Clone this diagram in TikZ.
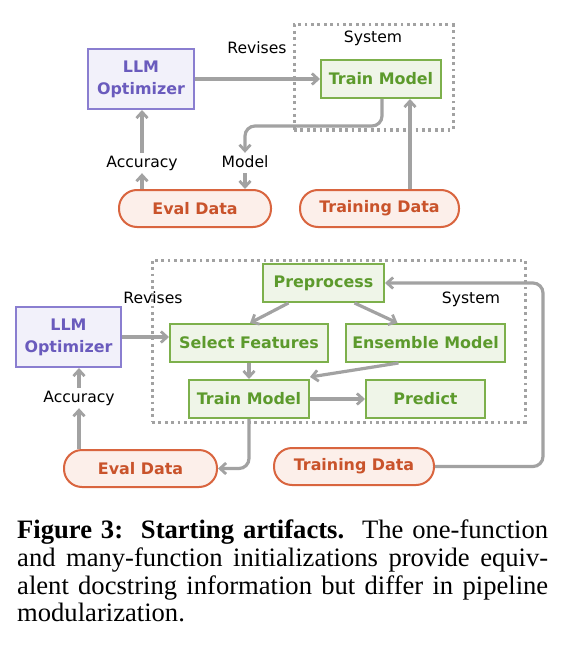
\documentclass[tikz,border=0pt]{standalone}
\usepackage{fontspec}
\setmainfont{Liberation Serif}
\newfontfamily\dvs{DejaVu Sans}
\usetikzlibrary{arrows.meta}
\definecolor{pText}{HTML}{6A5BBD}
\definecolor{pLine}{HTML}{8A7ED0}
\definecolor{pFill}{HTML}{F2F1FA}
\definecolor{gText}{HTML}{5C9A2C}
\definecolor{gLine}{HTML}{7DB04C}
\definecolor{gFill}{HTML}{EFF5E8}
\definecolor{oText}{HTML}{C9532B}
\definecolor{oLine}{HTML}{D9653F}
\definecolor{oFill}{HTML}{FCEFEA}
\definecolor{arrGray}{HTML}{A2A2A2}
\tikzset{
  base/.style={inner sep=0pt, font=\dvs\bfseries\fontsize{15.9pt}{22pt}\selectfont, align=center, line width=2pt},
  optbox/.style={base, draw=pLine, fill=pFill, text=pText},
  fnbox/.style={base, draw=gLine, fill=gFill, text=gText, minimum height=38pt},
  databox/.style={base, draw=oLine, fill=oFill, text=oText, rounded corners=18pt, minimum height=37pt},
  sysbox/.style={draw=arrGray, line width=3pt, dash pattern=on 2.8pt off 3.6pt},
  lbl/.style={inner sep=2.5pt, font=\dvs\fontsize{15.6pt}{18pt}\selectfont, text height=11.5pt, text depth=3.5pt},
  arr/.style={draw=arrGray, line width=3.2pt, -{Straight Barb[length=6pt,width=11pt,line width=2.8pt]}, rounded corners=10pt},
  capline/.style={anchor=base west, inner sep=0pt, font=\fontsize{26.6pt}{27.8pt}\selectfont}
}
\begin{document}
\begin{tikzpicture}[x=1pt, y=-1pt]
\useasboundingbox (0,0) rectangle (570,650);
% ---------- top diagram ----------
\node[sysbox, minimum width=159pt, minimum height=105pt] (sys1) at (373.5,77.5) {};
\node[lbl] (syslbl1) at (373,39) {System};
\node[lbl] (rev1) at (257,50) {Revises};
\node[optbox, minimum width=106pt, minimum height=60pt] (llm1) at (141,79) {LLM\\Optimizer};
\node[fnbox, minimum width=120pt] (tm1) at (381,79) {Train Model};
\node[databox, minimum width=152pt] (eval1) at (195,208.5) {Eval Data};
\node[databox, minimum width=159pt] (train1) at (379.5,208.5) {Training Data};
\node[lbl] (acc1) at (142,163) {Accuracy};
\node[lbl] (model1) at (245,163) {Model};
\coordinate (tmb1) at (382,126);
\draw[arr] (llm1.east) -- (tm1.west);
\draw[arr] (eval1.north -| acc1) -- (acc1.south);
\draw[arr] (acc1.north) -- (acc1.north |- llm1.south);
\draw[arr] (tm1.south -| tmb1) -- (tmb1) -| (model1.north);
\draw[arr] (model1.south) -- (model1.south |- eval1.north);
\draw[arr] (train1.north -| 410,0) -- (tm1.south -| 410,0);
% ---------- bottom diagram ----------
\node[sysbox, minimum width=373pt, minimum height=162pt] (sys2) at (338.5,341) {};
\node[lbl] (rev2) at (153,299) {Revises};
\node[lbl] (syslbl2) at (471,299) {System};
\node[optbox, minimum width=105pt, minimum height=60pt] (llm2) at (68.5,337) {LLM\\Optimizer};
\node[fnbox, minimum width=121pt] (pre) at (323.5,283) {Preprocess};
\node[fnbox, minimum width=158pt] (sf) at (249,343) {Select Features};
\node[fnbox, minimum width=159pt] (ens) at (425.5,343) {Ensemble Model};
\node[fnbox, minimum width=120pt] (tm2) at (249,399) {Train Model};
\node[fnbox, minimum width=119pt] (pred) at (425.5,399) {Predict};
\node[databox, minimum width=153pt] (eval2) at (140.5,468.5) {Eval Data};
\node[databox, minimum width=160pt] (train2) at (354,466.5) {Training Data};
\node[lbl] (acc2) at (79,398) {Accuracy};
\coordinate (trc) at (543,283);
\draw[arr] (llm2.east) -- (llm2.east -| sf.west);
\draw[arr] ([xshift=-35pt]pre.south) -- ([xshift=1pt]sf.north);
\draw[arr] ([xshift=31pt]pre.south) -- ([xshift=-28pt]ens.north);
\draw[arr] (sf.south) -- (tm2.north);
\draw[arr] ([xshift=-27pt]ens.south) -- ([yshift=2pt]tm2.north east);
\draw[arr] (tm2.east) -- (pred.west);
\draw[arr] (tm2.south) |- (eval2.east);
\draw[arr] (train2.east) -| (trc) -- (pre.east);
\draw[arr] (eval2.north -| acc2) -- (acc2.south);
\draw[arr] (acc2.north) -- (acc2.north |- llm2.south);
% ---------- caption ----------
\node[capline] (cap1) at (17,538.5) {\makebox[531pt][s]{\textbf{Figure 3:}\ \ \textbf{Starting artifacts.}\ \ The one-function}};
\node[capline] (cap2) at (17,566.3) {\makebox[531pt][s]{and many-function initializations provide equiv-}};
\node[capline] (cap3) at (17,594.1) {\makebox[531pt][s]{alent docstring information but differ in pipeline}};
\node[capline] (cap4) at (17,621.9) {modularization.};
\end{tikzpicture}
\end{document}
